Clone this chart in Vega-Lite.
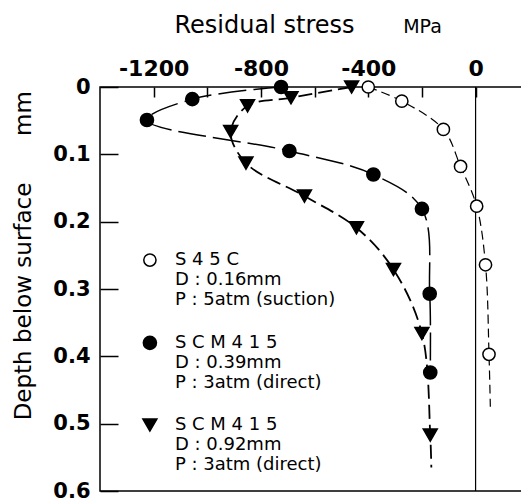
{
  "$schema": "https://vega.github.io/schema/vega-lite/v6.json",
  "width": 422,
  "height": 404,
  "autosize": {"type": "none"},
  "padding": {"left": 100, "top": 87, "right": 0, "bottom": 7},
  "background": "white",
  "datasets": {
    "measured": [
      {"series": "S45C", "stress": -400, "depth": 0.0},
      {"series": "S45C", "stress": -275, "depth": 0.021},
      {"series": "S45C", "stress": -120, "depth": 0.063},
      {"series": "S45C", "stress": -56, "depth": 0.118},
      {"series": "S45C", "stress": 4, "depth": 0.177},
      {"series": "S45C", "stress": 37, "depth": 0.264},
      {"series": "S45C", "stress": 50, "depth": 0.397},
      {"series": "SCM415 0.39", "stress": -725, "depth": 0.0},
      {"series": "SCM415 0.39", "stress": -1056, "depth": 0.018},
      {"series": "SCM415 0.39", "stress": -1225, "depth": 0.049},
      {"series": "SCM415 0.39", "stress": -694, "depth": 0.095},
      {"series": "SCM415 0.39", "stress": -381, "depth": 0.13},
      {"series": "SCM415 0.39", "stress": -200, "depth": 0.181},
      {"series": "SCM415 0.39", "stress": -171, "depth": 0.307},
      {"series": "SCM415 0.39", "stress": -169, "depth": 0.424},
      {"series": "SCM415 0.92", "stress": -462, "depth": 0.0},
      {"series": "SCM415 0.92", "stress": -688, "depth": 0.016},
      {"series": "SCM415 0.92", "stress": -850, "depth": 0.028},
      {"series": "SCM415 0.92", "stress": -913, "depth": 0.066},
      {"series": "SCM415 0.92", "stress": -856, "depth": 0.113},
      {"series": "SCM415 0.92", "stress": -638, "depth": 0.162},
      {"series": "SCM415 0.92", "stress": -444, "depth": 0.209},
      {"series": "SCM415 0.92", "stress": -306, "depth": 0.271},
      {"series": "SCM415 0.92", "stress": -200, "depth": 0.366},
      {"series": "SCM415 0.92", "stress": -169, "depth": 0.517}
    ],
    "curves": [
      {"series": "S45C", "stress": -400, "depth": 0.0},
      {"series": "S45C", "stress": -275, "depth": 0.021},
      {"series": "S45C", "stress": -120, "depth": 0.063},
      {"series": "S45C", "stress": -56, "depth": 0.118},
      {"series": "S45C", "stress": 4, "depth": 0.177},
      {"series": "S45C", "stress": 37, "depth": 0.264},
      {"series": "S45C", "stress": 50, "depth": 0.397},
      {"series": "S45C", "stress": 55, "depth": 0.475},
      {"series": "SCM415 0.39", "stress": -725, "depth": 0.0},
      {"series": "SCM415 0.39", "stress": -1056, "depth": 0.018},
      {"series": "SCM415 0.39", "stress": -1225, "depth": 0.049},
      {"series": "SCM415 0.39", "stress": -694, "depth": 0.095},
      {"series": "SCM415 0.39", "stress": -381, "depth": 0.13},
      {"series": "SCM415 0.39", "stress": -200, "depth": 0.181},
      {"series": "SCM415 0.39", "stress": -171, "depth": 0.307},
      {"series": "SCM415 0.39", "stress": -169, "depth": 0.424},
      {"series": "SCM415 0.92", "stress": -462, "depth": 0.0},
      {"series": "SCM415 0.92", "stress": -688, "depth": 0.016},
      {"series": "SCM415 0.92", "stress": -850, "depth": 0.028},
      {"series": "SCM415 0.92", "stress": -913, "depth": 0.066},
      {"series": "SCM415 0.92", "stress": -856, "depth": 0.113},
      {"series": "SCM415 0.92", "stress": -638, "depth": 0.162},
      {"series": "SCM415 0.92", "stress": -444, "depth": 0.209},
      {"series": "SCM415 0.92", "stress": -306, "depth": 0.271},
      {"series": "SCM415 0.92", "stress": -200, "depth": 0.366},
      {"series": "SCM415 0.92", "stress": -169, "depth": 0.517},
      {"series": "SCM415 0.92", "stress": -165, "depth": 0.565}
    ]
  },
  "resolve": {"axis": {"x": "independent", "y": "independent"}},
  "layer": [
    {
      "data": {"values": [{"stress": 0}]},
      "mark": {"type": "rule", "color": "black", "strokeWidth": 1.2},
      "encoding": {
        "x": {"field": "stress", "type": "quantitative", "axis": null}
      }
    },
    {
      "data": {"name": "curves"},
      "mark": {"type": "line", "interpolate": "catmull-rom", "color": "black"},
      "encoding": {
        "x": {
          "field": "stress", "type": "quantitative",
          "scale": {"domain": [-1400, 173], "nice": false, "zero": false},
          "axis": {
            "orient": "top",
            "values": [-1200, -1000, -800, -600, -400, -200, 0],
            "labelExpr": "datum.value % 400 == 0 ? toString(datum.value) : ''",
            "tickSize": -10,
            "labelPadding": 22,
            "labelBaseline": "alphabetic",
            "labelFontSize": 22,
            "labelFontWeight": "bold",
            "labelOverlap": false,
            "labelFlush": false,
            "title": "Residual stress",
            "titleFontSize": 24,
            "titleX": 164,
            "titleY": -55,
            "titleBaseline": "alphabetic",
            "titleAlign": "center",
            "encode": {"labels": {"dx": {"value": {"expr": "datum.value < 0 ? -6 : 0"}}}}
          }
        },
        "y": {
          "field": "depth", "type": "quantitative",
          "scale": {"domain": [0, 0.6], "reverse": true, "nice": false, "zero": false},
          "axis": {
            "orient": "left",
            "values": [0, 0.1, 0.2, 0.3, 0.4, 0.5, 0.6],
            "labelExpr": "toString(datum.value)",
            "tickSize": -18,
            "labelPadding": 28,
            "labelFontSize": 21,
            "labelFontWeight": "bold",
            "labelOverlap": false,
            "labelFlush": false,
            "title": "Depth below surface",
            "titleFontSize": 23,
            "titleX": -70,
            "titleY": 214,
            "titleAngle": 270,
            "titleBaseline": "alphabetic",
            "titleAlign": "center"
          }
        },
        "order": {"field": "depth", "type": "quantitative"},
        "strokeDash": {
          "field": "series", "type": "nominal",
          "scale": {"domain": ["S45C", "SCM415 0.39", "SCM415 0.92"], "range": [[9, 5], [28, 7], [14, 6]]},
          "legend": null
        },
        "strokeWidth": {
          "field": "series", "type": "nominal",
          "scale": {"domain": ["S45C", "SCM415 0.39", "SCM415 0.92"], "range": [1.2, 1.8, 2.4]},
          "legend": null
        }
      }
    },
    {
      "data": {"name": "measured"},
      "mark": {"type": "point", "filled": true, "stroke": "black", "strokeWidth": 1.5, "opacity": 1},
      "encoding": {
        "x": {
          "field": "stress", "type": "quantitative",
          "axis": {
            "orient": "top", "labels": false, "ticks": false, "domain": false,
            "title": "MPa", "titleFontSize": 19, "titleX": 322, "titleY": -55,
            "titleBaseline": "alphabetic", "titleAlign": "center"
          }
        },
        "y": {
          "field": "depth", "type": "quantitative",
          "axis": {
            "orient": "left", "labels": false, "ticks": false, "domain": false,
            "title": "mm", "titleFontSize": 23, "titleX": -70, "titleY": 26,
            "titleAngle": 270, "titleBaseline": "alphabetic", "titleAlign": "center"
          }
        },
        "shape": {
          "field": "series", "type": "nominal",
          "scale": {"domain": ["S45C", "SCM415 0.39", "SCM415 0.92"], "range": ["circle", "circle", "triangle-down"]},
          "legend": null
        },
        "fill": {
          "field": "series", "type": "nominal",
          "scale": {"domain": ["S45C", "SCM415 0.39", "SCM415 0.92"], "range": ["white", "black", "black"]},
          "legend": null
        },
        "size": {
          "field": "series", "type": "nominal",
          "scale": {"domain": ["S45C", "SCM415 0.39", "SCM415 0.92"], "range": [150, 196, 400]},
          "legend": null
        }
      }
    },
    {
      "data": {"values": [{"series": "S45C", "label": "S 4 5 C\nD : 0.16mm\nP : 5atm (suction)"}]},
      "encoding": {
        "x": {"datum": -1214, "type": "quantitative", "axis": null},
        "y": {"datum": 0.257, "type": "quantitative", "axis": null}
      },
      "layer": [
        {
          "mark": {"type": "point", "filled": true, "stroke": "black", "strokeWidth": 1.5, "opacity": 1},
          "encoding": {
            "shape": {"field": "series", "type": "nominal", "legend": null},
            "fill": {"field": "series", "type": "nominal", "legend": null},
            "size": {"field": "series", "type": "nominal", "legend": null}
          }
        },
        {
          "mark": {"type": "text", "align": "left", "baseline": "middle", "dx": 25, "fontSize": 18, "font": "DejaVu Sans", "color": "black", "lineBreak": "\n", "lineHeight": 20},
          "encoding": {"text": {"field": "label", "type": "nominal"}}
        }
      ]
    },
    {
      "data": {"values": [{"series": "SCM415 0.39", "label": "S C M 4 1 5\nD : 0.39mm\nP : 3atm (direct)"}]},
      "encoding": {
        "x": {"datum": -1214, "type": "quantitative", "axis": null},
        "y": {"datum": 0.380, "type": "quantitative", "axis": null}
      },
      "layer": [
        {
          "mark": {"type": "point", "filled": true, "stroke": "black", "strokeWidth": 1.5, "opacity": 1},
          "encoding": {
            "shape": {"field": "series", "type": "nominal", "legend": null},
            "fill": {"field": "series", "type": "nominal", "legend": null},
            "size": {"field": "series", "type": "nominal", "legend": null}
          }
        },
        {
          "mark": {"type": "text", "align": "left", "baseline": "middle", "dx": 25, "fontSize": 18, "font": "DejaVu Sans", "color": "black", "lineBreak": "\n", "lineHeight": 20},
          "encoding": {"text": {"field": "label", "type": "nominal"}}
        }
      ]
    },
    {
      "data": {"values": [{"series": "SCM415 0.92", "label": "S C M 4 1 5\nD : 0.92mm\nP : 3atm (direct)"}]},
      "encoding": {
        "x": {"datum": -1214, "type": "quantitative", "axis": null},
        "y": {"datum": 0.502, "type": "quantitative", "axis": null}
      },
      "layer": [
        {
          "mark": {"type": "point", "filled": true, "stroke": "black", "strokeWidth": 1.5, "opacity": 1},
          "encoding": {
            "shape": {"field": "series", "type": "nominal", "legend": null},
            "fill": {"field": "series", "type": "nominal", "legend": null},
            "size": {"field": "series", "type": "nominal", "legend": null}
          }
        },
        {
          "mark": {"type": "text", "align": "left", "baseline": "middle", "dx": 25, "fontSize": 18, "font": "DejaVu Sans", "color": "black", "lineBreak": "\n", "lineHeight": 20},
          "encoding": {"text": {"field": "label", "type": "nominal"}}
        }
      ]
    }
  ],
  "config": {
    "view": {"stroke": "black", "strokeWidth": 1.5},
    "axis": {
      "domain": false,
      "grid": false,
      "tickColor": "black",
      "tickWidth": 1.5,
      "labelColor": "black",
      "titleColor": "black",
      "labelFont": "DejaVu Sans",
      "titleFont": "DejaVu Sans",
      "titleFontWeight": "normal"
    }
  }
}
